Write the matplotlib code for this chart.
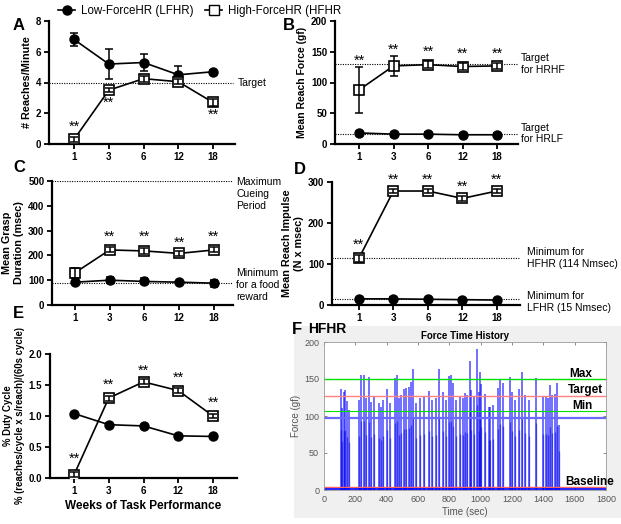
import matplotlib
matplotlib.use("Agg")
import matplotlib.pyplot as plt
from matplotlib.lines import Line2D
from matplotlib.patches import Rectangle

plt.rcParams['font.family'] = ['Liberation Sans', 'DejaVu Sans']

W, H = 621, 524

# ---- data ----
weeks = ['1', '3', '6', '12', '18']

# A: reaches / minute
a_lf = [6.8, 5.2, 5.3, 4.5, 4.7]
a_lf_err = [0.45, 1.0, 0.55, 0.55, 0.1]
a_hf = [0.3, 3.5, 4.25, 4.05, 2.7]
a_hf_err = [0.15, 0.15, 0.2, 0.15, 0.2]
a_star = [(0, 1.1), (1, 2.7), (4, 1.9)]

# B: mean reach force (gf)
b_lf = [18, 16, 16, 15, 15]
b_lf_err = [3, 4, 3, 3, 3]
b_hf = [88, 127, 129, 126, 127]
b_hf_err = [37, 16, 6, 5, 5]
b_star = [(0, 136), (1, 153), (2, 150), (3, 146), (4, 146)]

# C: grasp duration (msec)
c_lf = [92, 100, 95, 92, 88]
c_lf_err = [5, 12, 12, 5, 14]
c_hf = [130, 222, 218, 208, 222]
c_hf_err = [20, 10, 12, 10, 10]
c_star = [(1, 275), (2, 275), (3, 250), (4, 275)]

# D: reach impulse (N x msec)
d_lf = [15, 15, 14, 13, 12]
d_lf_err = [3, 4, 4, 3, 3]
d_hf = [114, 278, 278, 260, 278]
d_hf_err = [8, 5, 5, 6, 5]
d_star = [(0, 146), (1, 306), (2, 306), (3, 288), (4, 306)]

# E: duty cycle (%)
e_lf = [1.04, 0.86, 0.84, 0.68, 0.67]
e_lf_err = [0.01, 0.03, 0.02, 0.01, 0.01]
e_hf = [0.05, 1.29, 1.55, 1.41, 1.0]
e_hf_err = [0.04, 0.04, 0.04, 0.04, 0.04]
e_star = [(0, 0.31), (1, 1.51), (2, 1.73), (3, 1.62), (4, 1.22)]

# F: force time history spikes
spike_t = [107, 115, 130, 136, 149, 162, 222, 237, 256, 269, 288, 299, 320,
           348, 367, 375, 401, 422, 450, 465, 480, 490, 512, 525, 540, 555,
           567, 589, 610, 636, 672, 691, 717, 734, 762, 781, 796, 810, 823,
           845, 866, 885, 900, 913, 934, 941, 960, 977, 990, 998, 1005, 1030,
           1054, 1062, 1079, 1109, 1126, 1143, 1186, 1199, 1216, 1246, 1265,
           1280, 1307, 1352, 1399, 1414, 1429, 1442, 1457, 1472, 1485, 1502]
spike_h = [136, 111, 133, 135, 120, 108, 121, 156, 155, 124, 153, 119, 127,
           117, 112, 121, 136, 118, 151, 156, 124, 129, 137, 138, 139, 146,
           163, 118, 124, 127, 134, 121, 124, 163, 133, 122, 154, 156, 144,
           121, 126, 124, 131, 128, 175, 135, 126, 191, 133, 160, 143, 130,
           112, 112, 115, 138, 148, 144, 153, 133, 121, 136, 160, 128, 122,
           151, 127, 126, 124, 142, 128, 130, 145, 88]
f_lines = {'max': 150, 'target': 127, 'min': 107, 'blue': 97, 'baseline': 4}


def px_axes(fig, l, t, r, b):
    return fig.add_axes([l / W, 1 - b / H, (r - l) / W, (b - t) / H])


def style(ax, xlim, ylim, yticks, fmt=None):
    for s in ['top', 'right']:
        ax.spines[s].set_visible(False)
    for s in ['left', 'bottom']:
        ax.spines[s].set_linewidth(1.6)
    ax.set_xlim(*xlim)
    ax.set_ylim(*ylim)
    ax.set_xticks(range(len(weeks)))
    ax.set_xticklabels(weeks)
    ax.set_yticks(yticks)
    if fmt:
        ax.set_yticklabels([fmt % v for v in yticks])
    ax.tick_params(length=3.5, width=1.3, labelsize=7, pad=2)
    for lab in ax.get_xticklabels() + ax.get_yticklabels():
        lab.set_fontweight('bold')


def draw(ax, lf, lf_err, hf, hf_err, stars):
    x = range(len(weeks))
    ax.plot(x, lf, color='k', lw=1.2, marker='o', ms=6.5, mfc='k', zorder=3)
    ax.errorbar(x, lf, yerr=lf_err, fmt='none', ecolor='k', elinewidth=1.1,
                capsize=3, capthick=1.1, zorder=4)
    ax.plot(x, hf, color='k', lw=1.2, marker='s', ms=7, mfc='white',
            mec='k', mew=1.2, zorder=5)
    ax.errorbar(x, hf, yerr=hf_err, fmt='none', ecolor='k', elinewidth=1.1,
                capsize=3, capthick=1.1, zorder=6)
    for i, y in stars:
        ax.text(i, y, '**', ha='center', va='center', fontsize=10.5)


fig = plt.figure(figsize=(W / 100, H / 100), dpi=100)

# ---- A ----
axA = px_axes(fig, 49, 21, 235, 144)
style(axA, (-0.72, 4.63), (0, 8), [0, 2, 4, 6, 8])
draw(axA, a_lf, a_lf_err, a_hf, a_hf_err, a_star)
axA.axhline(4, xmax=0.99, color='k', ls=(0, (1, 1.2)), lw=0.8, zorder=1)
axA.text(4.72, 4, 'Target', va='center', fontsize=7.5, clip_on=False)
axA.set_ylabel('# Reaches/Minute', fontsize=7.8, fontweight='bold', labelpad=3)

# ---- B ----
axB = px_axes(fig, 335, 21, 518, 144)
style(axB, (-0.70, 4.61), (0, 200), [0, 50, 100, 150, 200])
draw(axB, b_lf, b_lf_err, b_hf, b_hf_err, b_star)
for yv in [130, 17]:
    axB.axhline(yv, color='k', ls=(0, (1, 1.2)), lw=0.8, zorder=1)
axB.text(4.7, 130, 'Target\nfor HRHF', va='center', fontsize=7.5,
         clip_on=False, linespacing=1.2)
axB.text(4.7, 17, 'Target\nfor HRLF', va='center', fontsize=7.5,
         clip_on=False, linespacing=1.2)
axB.set_ylabel('Mean Reach Force (gf)', fontsize=7.5, fontweight='bold',
               labelpad=3)

# ---- C ----
axC = px_axes(fig, 52, 181, 233, 305)
style(axC, (-0.66, 4.55), (0, 500), [0, 100, 200, 300, 400, 500])
draw(axC, c_lf, c_lf_err, c_hf, c_hf_err, c_star)
for yv in [500, 90]:
    axC.axhline(yv, color='k', ls=(0, (1, 1.2)), lw=0.8, zorder=1)
axC.text(4.65, 515, 'Maximum\nCueing\nPeriod', va='top', fontsize=7.5,
         clip_on=False, linespacing=1.25)
axC.text(4.65, 80, 'Minimum\nfor a food\nreward', va='center', fontsize=7.5,
         clip_on=False, linespacing=1.25)
axC.set_ylabel('Mean Grasp\nDuration (msec)', fontsize=7.8, fontweight='bold',
               labelpad=3)

# ---- D ----
axD = px_axes(fig, 332, 182, 520, 305)
style(axD, (-0.78, 4.67), (0, 300), [0, 100, 200, 300])
draw(axD, d_lf, d_lf_err, d_hf, d_hf_err, d_star)
for yv in [114, 15]:
    axD.axhline(yv, color='k', ls=(0, (1, 1.2)), lw=0.8, zorder=1)
axD.text(4.88, 114, 'Minimum for\nHFHR (114 Nmsec)', va='center',
         fontsize=7.5, clip_on=False, linespacing=1.3)
axD.text(4.88, 8, 'Minimum for\nLFHR (15 Nmsec)', va='center',
         fontsize=7.5, clip_on=False, linespacing=1.3)
axD.set_ylabel('Mean Reach Impulse\n(N x msec)', fontsize=7.8,
               fontweight='bold', labelpad=3)

# ---- E ----
axE = px_axes(fig, 50, 354, 237, 478)
style(axE, (-0.69, 4.69), (0, 2.0), [0, 0.5, 1.0, 1.5, 2.0], fmt='%.1f')
draw(axE, e_lf, e_lf_err, e_hf, e_hf_err, e_star)
axE.set_ylabel('% Duty Cycle\n% (reaches/cycle x s/reach)/(60s cycle)',
               fontsize=6.9, fontweight='bold', labelpad=3)
axE.set_xlabel('Weeks of Task Performance', fontsize=8.5, fontweight='bold',
               labelpad=3)

# ---- F ----
fig.patches.append(Rectangle((294 / W, 1 - 518 / H), (621 - 294) / W,
                             (518 - 326) / H, transform=fig.transFigure,
                             facecolor='#f0f0f0', edgecolor='none', zorder=-5))
axF = px_axes(fig, 324, 342, 606, 490)
axF.set_zorder(2)
axF.vlines(spike_t, 0, spike_h, color='#1010ff', alpha=0.6, lw=1.4)
axF.vlines(spike_t, 0, [h * 0.6 for h in spike_h], color='#0000e0',
           alpha=0.5, lw=1.0)
axF.axhline(f_lines['max'], color='#00e000', lw=1.0)
axF.axhline(f_lines['target'], color='#ff8080', lw=1.0)
axF.axhline(f_lines['min'], color='#00e000', lw=0.8)
axF.axhline(f_lines['blue'], color='#6a6aff', lw=1.6)
axF.axhline(f_lines['baseline'], color='#ff6060', lw=1.0)
axF.axhline(0.8, color='#0000ff', lw=1.2)
for lab, t, yv in [('Max', 1638, 157), ('Target', 1670, 135),
                   ('Min', 1650, 113), ('Baseline', 1698, 11)]:
    axF.text(t, yv, lab, ha='center', va='center', fontsize=8.5,
             fontweight='bold')
axF.set_xlim(0, 1800)
axF.set_ylim(0, 200)
axF.set_xticks(range(0, 1801, 200))
axF.set_yticks(range(0, 201, 50))
axF.tick_params(direction='in', top=True, right=True, length=2.5,
                width=0.6, labelsize=6.5, colors='#777777', labelcolor='#555555')
for s in axF.spines.values():
    s.set_color('#999999')
    s.set_linewidth(0.6)
axF.set_title('Force Time History', fontsize=7, fontweight='bold', pad=2)
axF.set_xlabel('Time (sec)', fontsize=7, color='#555555', labelpad=2)
axF.set_ylabel('Force (gf)', fontsize=7, color='#555555', labelpad=2)

# ---- panel letters ----
for lab, x, y in [('A', 13, 25), ('B', 283, 25), ('C', 13, 168),
                  ('D', 294, 170), ('E', 13, 313), ('F', 292, 329)]:
    fig.text(x / W, 1 - y / H, lab, fontsize=12, fontweight='bold',
             va='center', ha='left')
fig.text(308 / W, 1 - 329 / H, 'HFHR', fontsize=10, fontweight='bold',
         va='center', ha='left')

# ---- legend ----
handles = [Line2D([], [], color='k', marker='o', ms=6.5, lw=1.2),
           Line2D([], [], color='k', marker='s', ms=7, mfc='white', lw=1.2)]
fig.legend(handles, ['Low-ForceHR (LFHR)', 'High-ForceHR (HFHR'], ncol=2,
           loc='center left', bbox_to_anchor=(58 / W, 1 - 11 / H),
           frameon=False, fontsize=8.3, handlelength=1.5, handletextpad=0.5,
           columnspacing=1.0, borderaxespad=0, borderpad=0)

fig.savefig('out.png', dpi=100)
